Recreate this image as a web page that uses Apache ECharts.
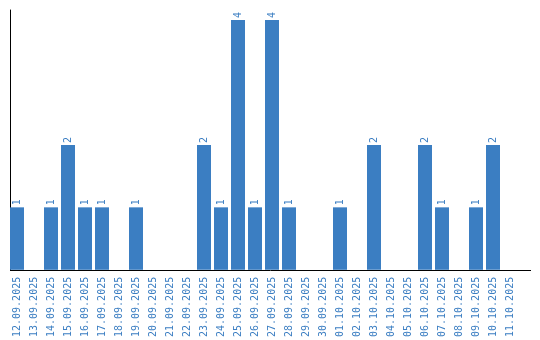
<!DOCTYPE html>
<html><head><meta charset="utf-8">
<script src="https://cdn.jsdelivr.net/npm/echarts@6/dist/echarts.min.js"></script>
<style>html,body{margin:0;padding:0;background:#fff}#c{width:540px;height:340px}</style>
</head><body><div id="c"></div>
<script>
const categories = ["12.09.2025","13.09.2025","14.09.2025","15.09.2025","16.09.2025","17.09.2025","18.09.2025","19.09.2025","20.09.2025","21.09.2025","22.09.2025","23.09.2025","24.09.2025","25.09.2025","26.09.2025","27.09.2025","28.09.2025","29.09.2025","30.09.2025","01.10.2025","02.10.2025","03.10.2025","04.10.2025","05.10.2025","06.10.2025","07.10.2025","08.10.2025","09.10.2025","10.10.2025","11.10.2025"];
const values = [1,0,1,2,1,1,0,1,0,0,0,2,1,4,1,4,1,0,0,1,0,2,0,0,2,1,0,1,2,0];
const blue = '#3b7ec2';
const chart = echarts.init(document.getElementById('c'));
chart.setOption({
  animation:false,
  grid:{left:8.5, top:10, width:510, height:260},
  xAxis:{type:'category', data:categories, axisLine:{show:false}, axisTick:{show:false},
    axisLabel:{rotate:90, interval:0, margin:7, color:blue, fontFamily:'DejaVu Sans Mono', fontSize:10}},
  yAxis:{type:'value', min:0, max:4.16, offset:-1.5, axisLine:{show:true, lineStyle:{color:'#000', width:1}},
    axisTick:{show:false}, axisLabel:{show:false}, splitLine:{show:false}},
  series:[{type:'bar', data:values.map(v=>v===0?null:v), barWidth:14, itemStyle:{color:blue},
    label:{show:true, position:'top', rotate:90, align:'left', verticalAlign:'middle', distance:2,
      color:blue, fontFamily:'DejaVu Sans Mono', fontSize:10}}],
  graphic:[{type:'line', shape:{x1:10, y1:270.5, x2:531, y2:270.5}, style:{stroke:'#000', lineWidth:1}, silent:true}]
});
</script></body></html>
